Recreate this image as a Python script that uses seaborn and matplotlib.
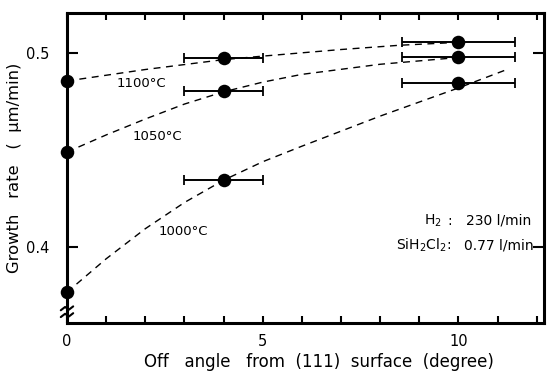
import numpy as np
import pandas as pd
import matplotlib
matplotlib.use("Agg")
import matplotlib.pyplot as plt
import seaborn as sns

# ---- data ----
temps = ["1100°C", "1050°C", "1000°C"]
angles = [0, 4, 10]
rate_1100 = [0.4856, 0.4974, 0.5055]
rate_1050 = [0.4490, 0.4804, 0.4977]
rate_1000 = [0.3768, 0.4345, 0.4845]
xerr_left = [0.0, 1.0, 1.45]
xerr_right = [0.0, 1.0, 1.45]

# dashed guide curves
curve_1100_x = [0, 2, 4, 5, 7, 8.5, 10]
curve_1100_y = [0.4856, 0.4915, 0.4966, 0.4984, 0.5018, 0.5040, 0.5055]
curve_1050_x = [0, 1, 2, 3, 4, 5, 6, 8, 10]
curve_1050_y = [0.4490, 0.4578, 0.4660, 0.4737, 0.4800, 0.4850, 0.4890, 0.4942, 0.4977]
curve_1000_x = [0, 1, 2, 3, 4, 5, 6, 8, 10, 11.2]
curve_1000_y = [0.3768, 0.3940, 0.4095, 0.4230, 0.4345, 0.4440, 0.4520, 0.4675, 0.4820, 0.4912]

xticks_major = [0, 5, 10]
yticks_major = [0.4, 0.5]

sns.set_theme(style="white")
plt.rcParams['font.family'] = ['DejaVu Sans']
plt.rcParams['text.color'] = 'black'
plt.rcParams['axes.labelcolor'] = 'black'
plt.rcParams['xtick.color'] = 'black'
plt.rcParams['ytick.color'] = 'black'

fig = plt.figure(figsize=(5.55, 3.72), dpi=100)
ax = fig.add_axes([0.1207, 0.132, 0.859, 0.833])

curves = pd.DataFrame({
    "x": curve_1100_x + curve_1050_x + curve_1000_x,
    "y": curve_1100_y + curve_1050_y + curve_1000_y,
    "T": [temps[0]] * len(curve_1100_x) + [temps[1]] * len(curve_1050_x) + [temps[2]] * len(curve_1000_x),
})
for t in temps:
    sub = curves[curves["T"] == t]
    sns.lineplot(data=sub, x="x", y="y", ax=ax, color="black", lw=1.0,
                 linestyle=(0, (5, 4)), sort=False, estimator=None, legend=False)

for rates in (rate_1100, rate_1050, rate_1000):
    ax.errorbar(angles[1:], rates[1:], xerr=[xerr_left[1:], xerr_right[1:]],
                fmt="none", ecolor="black", elinewidth=1.4, capsize=3.5, capthick=1.3)

pts = pd.DataFrame({
    "x": angles * 3,
    "y": rate_1100 + rate_1050 + rate_1000,
})
sns.scatterplot(data=pts, x="x", y="y", ax=ax, color="black", s=95,
                edgecolor="black", linewidth=0, clip_on=False, zorder=5)

ax.set_xlim(0, 12.18)
ax.set_ylim(0.361, 0.5206)

ax.set_xticks(xticks_major)
ax.set_xticklabels([str(v) for v in xticks_major])
ax.set_xticks(list(range(1, 13)), minor=True)
ax.set_yticks(yticks_major)
ax.set_yticklabels([f"{v:.1f}" for v in yticks_major])

ax.tick_params(axis="x", which="both", direction="in", length=5, width=1.5,
               top=True, bottom=True, labelsize=10.5, pad=8)
ax.tick_params(axis="y", which="major", direction="in", length=8, width=1.5,
               left=True, right=True, labelsize=10.5, pad=13)
ax.tick_params(axis="y", which="minor", left=False, right=False)

for s in ax.spines.values():
    s.set_color("black")
    s.set_linewidth(2.2)

ax.set_xlabel("Off   angle   from  (111)  surface  (degree)", fontsize=12)
ax.xaxis.set_label_coords(0.528, -0.126)
ax.xaxis.label.set_va("center")
ax.set_ylabel("Growth   rate   (  μm/min)", fontsize=11.8)
ax.yaxis.set_label_coords(-0.111, 0.5)
ax.yaxis.label.set_va("center")

# temperature labels
ax.text(1.27, 0.4842, temps[0], fontsize=9.5, ha="left", va="center")
ax.text(1.67, 0.4570, temps[1], fontsize=9.5, ha="left", va="center")
ax.text(2.35, 0.4082, temps[2], fontsize=9.5, ha="left", va="center")

# gas-flow annotation
ax.text(9.13, 0.4136, "H$_2$", fontsize=10, ha="left", va="center")
ax.text(9.72, 0.4136, ":", fontsize=10, ha="left", va="center")
ax.text(10.2, 0.4136, "230 l/min", fontsize=10, ha="left", va="center")
ax.text(8.4, 0.4010, "SiH$_2$Cl$_2$:", fontsize=10, ha="left", va="center")
ax.text(10.15, 0.4010, "0.77 l/min", fontsize=10, ha="left", va="center")

# axis-break mark on the left spine
trans = ax.get_yaxis_transform()
for yb in (0.3685, 0.3650):
    xs = np.array([-0.013, -0.004, 0.004, 0.013])
    ys = np.array([yb - 0.0010, yb + 0.0007, yb - 0.0007, yb + 0.0010])
    ax.plot(xs, ys, transform=trans, color="black", lw=1.5, clip_on=False, zorder=6)

fig.savefig("out.png", dpi=100, facecolor="white")
